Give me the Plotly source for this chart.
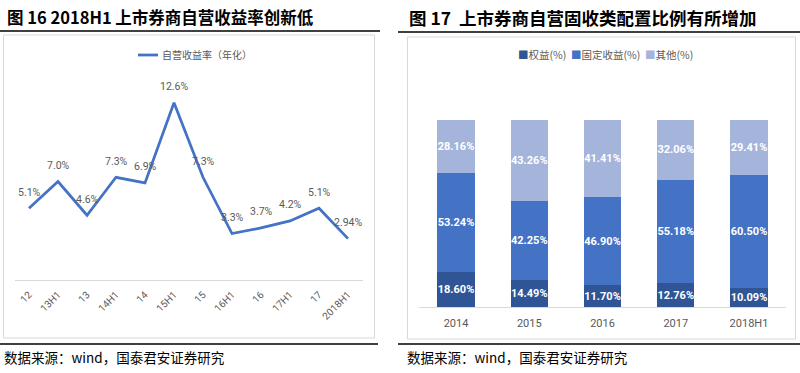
import plotly.graph_objects as go

# ---- data ----
line_cats = ["12", "13H1", "13", "14H1", "14", "15H1", "15", "16H1", "16", "17H1", "17", "2018H1"]
line_vals = [5.1, 7.0, 4.6, 7.3, 6.9, 12.6, 7.3, 3.3, 3.7, 4.2, 5.1, 2.94]
line_labels = ["5.1%", "7.0%", "4.6%", "7.3%", "6.9%", "12.6%", "7.3%", "3.3%", "3.7%", "4.2%", "5.1%", "2.94%"]
line_name = "自营收益率（年化）"

bar_cats = ["2014", "2015", "2016", "2017", "2018H1"]
equity = [18.60, 14.49, 11.70, 12.76, 10.09]
fixed_income = [53.24, 42.25, 46.90, 55.18, 60.50]
other = [28.16, 43.26, 41.41, 32.06, 29.41]
bar_names = ["权益(%)", "固定收益(%)", "其他(%)"]

title_left = "图 16 2018H1 上市券商自营收益率创新低"
title_right = "图 17  上市券商自营固收类配置比例有所增加"
source_text = "数据来源：wind，国泰君安证券研究"

W, H = 800, 373
def px(x):
    return x / W
def py(y):
    return 1 - y / H

GRAY = "#595959"
CJK = "Noto Sans CJK SC"
NUMF = "Liberation Sans Narrow, Roboto, Noto Sans CJK SC, sans-serif"
LINE_COLOR = "#4472C4"
bar_colors = ["#2F5597", "#4472C4", "#A5B4DB"]

fig = go.Figure()

fig.add_trace(go.Scatter(
    x=line_cats, y=line_vals, mode="lines", name=line_name, showlegend=False,
    line=dict(color=LINE_COLOR, width=2.75), xaxis="x", yaxis="y",
))

for name, vals, col in zip(bar_names, [equity, fixed_income, other], bar_colors):
    fig.add_trace(go.Bar(
        x=bar_cats, y=vals, name=name, showlegend=False,
        marker=dict(color=col, line=dict(width=0)),
        text=[f"{v:.2f}%" for v in vals], textposition="inside", insidetextanchor="middle",
        textangle=0, constraintext="none",
        textfont=dict(color="white", size=11, family=NUMF, weight="bold"),
        width=0.51, xaxis="x2", yaxis="y2",
    ))

annotations = []
for i, (v, t) in enumerate(zip(line_vals, line_labels)):
    annotations.append(dict(x=i, y=v, xref="x", yref="y", text=t, showarrow=False,
                            yshift=16, font=dict(size=10.5, color=GRAY, family=NUMF)))

# legends (manual, compact like the reference)
bar_legend = "  ".join(
    f"<span style='color:{c}'>■</span>{n}" for n, c in zip(bar_names, bar_colors))
annotations += [
    dict(x=px(160), y=py(55), xref="paper", yref="paper", text=line_name,
         showarrow=False, xanchor="left", yanchor="middle",
         font=dict(size=10, color=GRAY, family=CJK)),
    dict(x=px(605), y=py(55), xref="paper", yref="paper", text=bar_legend,
         showarrow=False, xanchor="center", yanchor="middle",
         font=dict(size=10.5, color=GRAY, family=CJK)),
]

annotations += [
    dict(x=px(5), y=py(17), xref="paper", yref="paper", text=f"<b>{title_left}</b>",
         showarrow=False, xanchor="left", yanchor="middle",
         font=dict(size=16.5, color="black", family=CJK)),
    dict(x=px(407), y=py(17), xref="paper", yref="paper", text=f"<b>{title_right}</b>",
         showarrow=False, xanchor="left", yanchor="middle",
         font=dict(size=17.5, color="black", family=CJK)),
    dict(x=px(2), y=py(357), xref="paper", yref="paper", text=source_text,
         showarrow=False, xanchor="left", yanchor="middle",
         font=dict(size=13.5, color="black", family=CJK)),
    dict(x=px(405), y=py(357), xref="paper", yref="paper", text=source_text,
         showarrow=False, xanchor="left", yanchor="middle",
         font=dict(size=13.5, color="black", family=CJK)),
]

shapes = [
    # boxes
    dict(type="rect", xref="paper", yref="paper", x0=px(3.5), x1=px(374.5), y0=py(338), y1=py(35),
         line=dict(color="#D9D9D9", width=1)),
    dict(type="rect", xref="paper", yref="paper", x0=px(407.5), x1=px(795.5), y0=py(339), y1=py(37),
         line=dict(color="#D9D9D9", width=1)),
    # black rules
    dict(type="line", xref="paper", yref="paper", x0=px(0), x1=px(380), y0=py(31), y1=py(31),
         line=dict(color="black", width=1.5)),
    dict(type="line", xref="paper", yref="paper", x0=px(398), x1=px(800), y0=py(32), y1=py(32),
         line=dict(color="black", width=1.5)),
    dict(type="line", xref="paper", yref="paper", x0=px(0), x1=px(378), y0=py(344), y1=py(344),
         line=dict(color="black", width=1.5)),
    dict(type="line", xref="paper", yref="paper", x0=px(398), x1=px(800), y0=py(344), y1=py(344),
         line=dict(color="black", width=1.5)),
    # line legend sample
    dict(type="line", xref="paper", yref="paper", x0=px(138), x1=px(158), y0=py(55), y1=py(55),
         line=dict(color=LINE_COLOR, width=2.75)),
]

fig.update_layout(
    width=W, height=H, margin=dict(l=0, r=0, t=0, b=0, autoexpand=False),
    paper_bgcolor="white", plot_bgcolor="white",
    barmode="stack", showlegend=False,
    xaxis=dict(domain=[px(14.5), px(362.5)], type="category", range=[-0.5, 11.5],
               automargin=False,
               showline=True, linecolor="#D9D9D9", linewidth=1, showgrid=False,
               tickangle=-45, tickfont=dict(size=10, color=GRAY, family=NUMF),
               ticks="outside", ticklen=4, tickcolor="rgba(0,0,0,0)", anchor="y"),
    yaxis=dict(domain=[py(280), py(83)], range=[0, 14], visible=False, anchor="x",
               automargin=False),
    xaxis2=dict(domain=[px(419.4), px(785.6)], type="category", range=[-0.5, 4.5],
                automargin=False,
                showline=True, linecolor="#D9D9D9", linewidth=1, showgrid=False,
                tickangle=0, tickfont=dict(size=11, color=GRAY, family=NUMF),
                ticks="outside", ticklen=6, tickcolor="rgba(0,0,0,0)", anchor="y2"),
    yaxis2=dict(domain=[py(307), py(120)], range=[0, 100], visible=False, anchor="x2",
                automargin=False),
    annotations=annotations, shapes=shapes,
)

fig.write_html(
    "out.html",
    config={"displayModeBar": False},
    post_script="document.body.style.margin='0';document.body.style.overflow='hidden';",
)
